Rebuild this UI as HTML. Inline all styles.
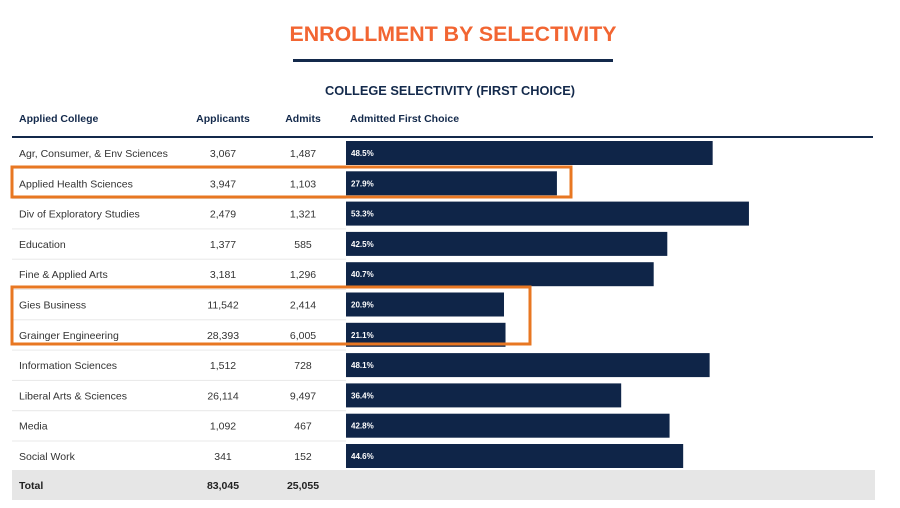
<!DOCTYPE html>
<html><head><meta charset="utf-8"><style>
body{margin:0;background:#fff;}
svg{display:block;font-family:"Liberation Sans",sans-serif;}
</style></head><body>
<svg id="chart" width="900" height="508" viewBox="0 0 900 508">
<text x="453" y="41" text-anchor="middle" font-size="21" font-weight="bold" fill="#f26532" textLength="327" lengthAdjust="spacingAndGlyphs">ENROLLMENT BY SELECTIVITY</text>
<rect x="293" y="59" width="320" height="3" fill="#13294b"/>
<text x="450" y="95" text-anchor="middle" font-size="12.5" font-weight="bold" fill="#13294b" textLength="250" lengthAdjust="spacingAndGlyphs">COLLEGE SELECTIVITY (FIRST CHOICE)</text>
<g font-size="10.5" font-weight="bold" fill="#13294b">
<text x="19" y="122">Applied College</text>
<text x="223" y="122" text-anchor="middle">Applicants</text>
<text x="303" y="122" text-anchor="middle">Admits</text>
<text x="350" y="122">Admitted First Choice</text>
</g>
<rect x="12" y="136" width="861" height="2" fill="#13294b"/>
<g id="rows"></g>
<rect x="12" y="470" width="863" height="30" fill="#e6e6e6"/>
<g font-size="10.5" font-weight="bold" fill="#222">
<text x="19" y="489">Total</text>
<text x="223" y="489" text-anchor="middle">83,045</text>
<text x="303" y="489" text-anchor="middle">25,055</text>
</g>
<rect x="12" y="167" width="559" height="30" fill="none" stroke="#e87722" stroke-width="3"/>
<rect x="12" y="287" width="518" height="57" fill="none" stroke="#e87722" stroke-width="3"/>
</svg>
<script>
const colleges=["Agr, Consumer, & Env Sciences","Applied Health Sciences","Div of Exploratory Studies","Education","Fine & Applied Arts","Gies Business","Grainger Engineering","Information Sciences","Liberal Arts & Sciences","Media","Social Work"];
const applicants=["3,067","3,947","2,479","1,377","3,181","11,542","28,393","1,512","26,114","1,092","341"];
const admits=["1,487","1,103","1,321","585","1,296","2,414","6,005","728","9,497","467","152"];
const pct=[48.5,27.9,53.3,42.5,40.7,20.9,21.1,48.1,36.4,42.8,44.6];
const NS="http://www.w3.org/2000/svg";
const g=document.getElementById('rows');
const x=v=>346+v*7.56;
const yc=i=>153+i*30.3;
function mk(t,a){const e=document.createElementNS(NS,t);for(const k in a)e.setAttribute(k,a[k]);g.appendChild(e);return e;}
colleges.forEach((c,i)=>{
 const y=yc(i);
 if(i>0){const l=mk('rect',{x:12,y:y-15.5,width:334,height:1,fill:'#e8e8e8'});
 
 }
 const t=mk('text',{x:19,y:y+4,'font-size':10.5,fill:'#333'});t.textContent=c;
 
 
 const a=mk('text',{x:223,y:y+4,'font-size':10.5,fill:'#333','text-anchor':'middle'});a.textContent=applicants[i];
 
 
 const d=mk('text',{x:303,y:y+4,'font-size':10.5,fill:'#333','text-anchor':'middle'});d.textContent=admits[i];
 
 
 const b=mk('rect',{x:346,y:y-12,width:x(pct[i])-346,height:24,fill:'#0f2548'});
 
 
 const bl=mk('text',{x:351,y:y+3,'font-size':8,'font-weight':'bold',fill:'#fff'});bl.textContent=pct[i].toFixed(1)+'%';
 
 
});
</script>
</body></html>
